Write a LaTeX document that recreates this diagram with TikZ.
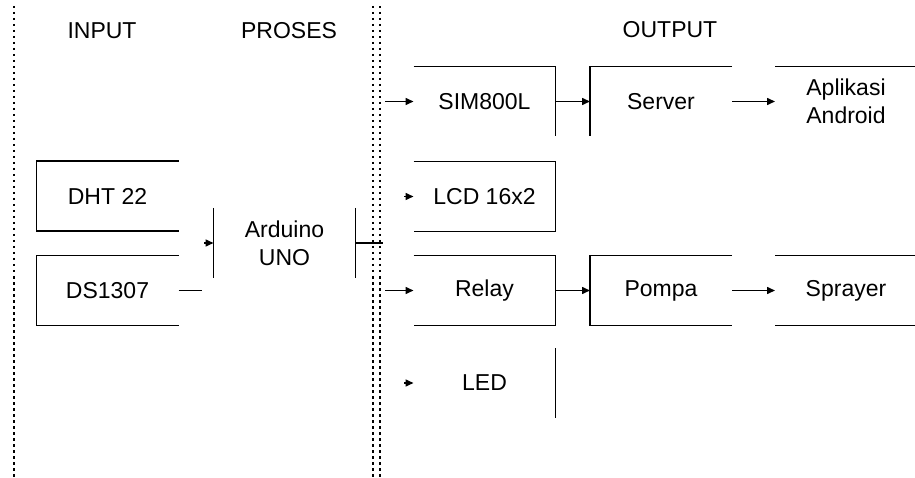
\documentclass[tikz,border=0pt]{standalone}
\usepackage{fontspec}
\setmainfont{Liberation Sans}
\usetikzlibrary{arrows.meta,calc}

\begin{document}
\begin{tikzpicture}[x=1pt, y=-1pt, line width=1.5pt,
    >={Triangle[length=8pt,width=7pt]},
    blok/.style={minimum width=142pt, minimum height=70pt, inner sep=0pt, outer sep=0pt,
                 align=center, font=\fontsize{23}{28}\selectfont},
    judul/.style={font=\fontsize{23}{28}\selectfont},
    batas/.style={line width=1.6pt, dash pattern=on 2.5pt off 3.5pt}]
    \useasboundingbox (0,0) rectangle (915,478);
    % Spalten
    \draw[batas] (14,6) -- (14,478);
    \draw[batas] (373,6) -- (373,478);
    \draw[batas] (380,6) -- (380,478);
    \node[judul] (input) at (102,31) {INPUT};
    \node[judul] (proses) at (289,31) {PROSES};
    \node[judul] (output) at (670,30) {OUTPUT};

    % Input
    \node[blok] (dht) at (107.5,196) {DHT 22};
    \node[blok] (ds) at (107.5,290.5) {DS1307};
    \draw (dht.north east) -- (dht.north west) -- (dht.south west) -- (dht.south east);
    \draw (ds.north east) -- (ds.north west) -- (ds.south west) -- (ds.south east);
    \coordinate (dsstub) at (202,290.5);
    \draw (ds.east) -- (dsstub);

    % Proses
    \node[blok] (ard) at (284.5,243) {Arduino\\UNO};
    \coordinate (ardin) at (204,243);
    \coordinate (ardout) at (383,243);
    \draw[->] (ardin) -- (ard.west);
    \draw (ard.north west) -- (ard.south west);
    \draw (ard.north east) -- (ard.south east);
    \draw (ard.east) -- (ardout);

    % Output
    \node[blok] (sim) at (484.5,101.5) {SIM800L};
    \node[blok] (lcd) at (484.5,196.5) {LCD 16x2};
    \node[blok] (relay) at (484.5,290.5) {Relay};
    \node[blok] (led) at (484.5,383) {LED};
    \node[blok] (server) at (661,101.5) {Server};
    \node[blok] (pompa) at (661,290.5) {Pompa};
    \node[blok] (android) at (846,101.5) {Aplikasi\\Android};
    \node[blok] (sprayer) at (846,290.5) {Sprayer};

    \coordinate (simin) at (385,101.5);
    \coordinate (lcdin) at (404,196.5);
    \coordinate (relayin) at (385,290.5);
    \coordinate (ledin) at (404,383);
    \draw[->] (simin) -- (sim.west);
    \draw[->] (lcdin) -- (lcd.west);
    \draw[->] (relayin) -- (relay.west);
    \draw[->] (ledin) -- (led.west);

    \draw (sim.north west) -- (sim.north east) -- (sim.south east);
    \draw (lcd.north west) -- (lcd.north east) -- (lcd.south east) -- (lcd.south west);
    \draw (relay.north west) -- (relay.north east) -- (relay.south east) -- (relay.south west);
    \draw (led.north east) -- (led.south east);
    \draw (server.north east) -- (server.north west) -- (server.south west);
    \draw (pompa.north east) -- (pompa.north west) -- (pompa.south west) -- (pompa.south east);
    \draw (android.north west) -- (android.north east);
    \draw (sprayer.north west) -- (sprayer.north east);
    \draw (sprayer.south west) -- (sprayer.south east);

    \draw[->] (sim) -- (server);
    \draw[->] (server) -- (android);
    \draw[->] (relay) -- (pompa);
    \draw[->] (pompa) -- (sprayer);
\end{tikzpicture}
\end{document}
